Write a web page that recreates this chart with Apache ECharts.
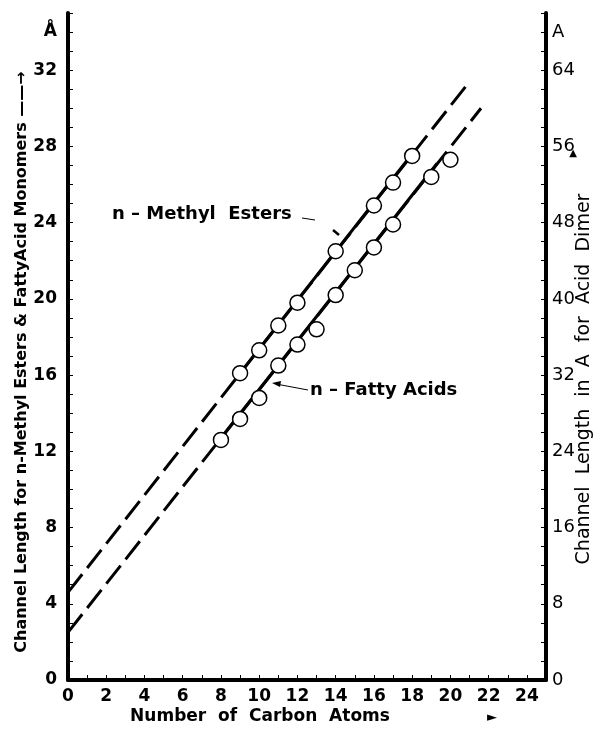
<!DOCTYPE html>
<html>
<head>
<meta charset="utf-8">
<script src="https://cdn.jsdelivr.net/npm/echarts@6/dist/echarts.min.js"></script>
<style>html,body{margin:0;padding:0;background:#fff}#c{width:600px;height:729px}</style>
</head>
<body>
<div id="c"></div>
<script>
// ---- data ----
const methylX = [9, 10, 11, 12, 14, 16, 17, 18];
const methylY = [16.1, 17.3, 18.6, 19.8, 22.5, 24.9, 26.1, 27.5];
const fattyX = [8, 9, 10, 11, 12, 13, 14, 15, 16, 17, 19, 20];
const fattyY = [12.6, 13.7, 14.8, 16.5, 17.6, 18.4, 20.2, 21.5, 22.7, 23.9, 26.4, 27.3];
// fitted lines as drawn (end points)
const methylLineFull = [[0, 4.6], [21, 31.4]];
const methylLineSolid = [[9, 16.1], [18, 27.6]];
const fattyLineFull = [[0, 2.5], [21.6, 30.0]];
const fattyLineSolid = [[8, 12.7], [19.3, 27.1]];
// tick labels
const xTickLabels = [0, 2, 4, 6, 8, 10, 12, 14, 16, 18, 20, 22, 24];
const yLeftTickLabels = [0, 4, 8, 12, 16, 20, 24, 28, 32];
const yRightTickLabels = [0, 8, 16, 24, 32, 40, 48, 56, 64];

const FONT = 'DejaVu Sans';
const chart = echarts.init(document.getElementById('c'), null, {renderer: 'canvas'});

const pts = (xs, ys) => xs.map((x, i) => [x, ys[i]]);
const axisLine = {show: true, onZero: false, lineStyle: {color: '#000', width: 4}};
const tick = {show: true, inside: true, length: 5, lineStyle: {color: '#000', width: 1}};
const dash = {color: '#000', width: 3, type: [23, 8], cap: 'butt'};

const option = {
  animation: false,
  backgroundColor: '#fff',
  grid: {left: 68, right: 54, top: 13, bottom: 49, containLabel: false},
  xAxis: {
    type: 'value', min: 0, max: 25, interval: 1,
    axisLine: axisLine, axisTick: tick, splitLine: {show: false},
    axisLabel: {
      margin: 8, color: '#000', fontFamily: FONT, fontWeight: 'bold', fontSize: 17,
      formatter: v => xTickLabels.includes(v) ? String(v) : ''
    }
  },
  yAxis: [{
    type: 'value', min: 0, max: 35, interval: 1, position: 'left',
    axisLine: axisLine, axisTick: tick, splitLine: {show: false},
    axisLabel: {
      margin: 11, color: '#000', fontFamily: FONT, fontWeight: 'bold', fontSize: 17,
      formatter: v => yLeftTickLabels.includes(v) ? String(v) : (v === 34 ? 'Å' : '')
    }
  }, {
    type: 'value', min: 0, max: 70, interval: 2, position: 'right',
    axisLine: axisLine, axisTick: tick, splitLine: {show: false},
    axisLabel: {
      margin: 6, color: '#000', fontFamily: FONT, fontSize: 18,
      formatter: v => yRightTickLabels.includes(v) ? String(v) : (v === 68 ? 'A' : '')
    }
  }],
  series: [
    {type: 'line', data: methylLineFull, symbol: 'none', z: 2, lineStyle: dash},
    {type: 'line', data: methylLineSolid, symbol: 'none', z: 2,
     lineStyle: {color: '#000', width: 3}},
    {type: 'line', data: fattyLineFull, symbol: 'none', z: 2, lineStyle: dash},
    {type: 'line', data: fattyLineSolid, symbol: 'none', z: 2,
     lineStyle: {color: '#000', width: 3}},
    {type: 'scatter', name: 'n-Methyl Esters', data: pts(methylX, methylY), symbol: 'circle', symbolSize: 15, z: 5,
     itemStyle: {color: '#fff', borderColor: '#000', borderWidth: 1.5, opacity: 1}},
    {type: 'scatter', name: 'n-Fatty Acids', data: pts(fattyX, fattyY), symbol: 'circle', symbolSize: 15, z: 5,
     itemStyle: {color: '#fff', borderColor: '#000', borderWidth: 1.5, opacity: 1}}
  ],
  graphic: [
    {type: 'text', x: 22, y: 362, rotation: Math.PI / 2,
     style: {text: 'Channel Length for n-Methyl Esters & FattyAcid Monomers ——→', font: 'bold 16px "DejaVu Sans"', fill: '#000', align: 'center', verticalAlign: 'middle'}},
    {type: 'text', x: 584, y: 379, rotation: Math.PI / 2,
     style: {text: 'Channel  Length  in  A  for  Acid  Dimer', font: '19px "DejaVu Sans"', fill: '#000', align: 'center', verticalAlign: 'middle'}},
    {type: 'text', x: 573, y: 153,
     style: {text: '▲', font: '10px "DejaVu Sans"', fill: '#000', align: 'center', verticalAlign: 'middle'}},
    {type: 'text', x: 260, y: 717,
     style: {text: 'Number  of  Carbon  Atoms', font: 'bold 17px "DejaVu Sans"', fill: '#000', align: 'center', verticalAlign: 'middle'}},
    {type: 'text', x: 492, y: 718,
     style: {text: '►', font: '13px "DejaVu Sans"', fill: '#000', align: 'center', verticalAlign: 'middle'}},
    {type: 'text', x: 112, y: 214,
     style: {text: 'n – Methyl  Esters', font: 'bold 18px "DejaVu Sans"', fill: '#000', align: 'left', verticalAlign: 'middle'}},
    {type: 'line', shape: {x1: 302, y1: 218, x2: 315, y2: 220}, style: {stroke: '#000', lineWidth: 1}},
    {type: 'line', shape: {x1: 333, y1: 230, x2: 339, y2: 235}, style: {stroke: '#000', lineWidth: 2.5}},
    {type: 'text', x: 310, y: 390,
     style: {text: 'n – Fatty Acids', font: 'bold 18px "DejaVu Sans"', fill: '#000', align: 'left', verticalAlign: 'middle'}},
    {type: 'line', shape: {x1: 308, y1: 390, x2: 276, y2: 384}, style: {stroke: '#000', lineWidth: 1}},
    {type: 'polygon', shape: {points: [[272, 383], [281, 381], [280, 387]]}, style: {fill: '#000'}}
  ]
};
chart.setOption(option);
</script>
</body>
</html>
